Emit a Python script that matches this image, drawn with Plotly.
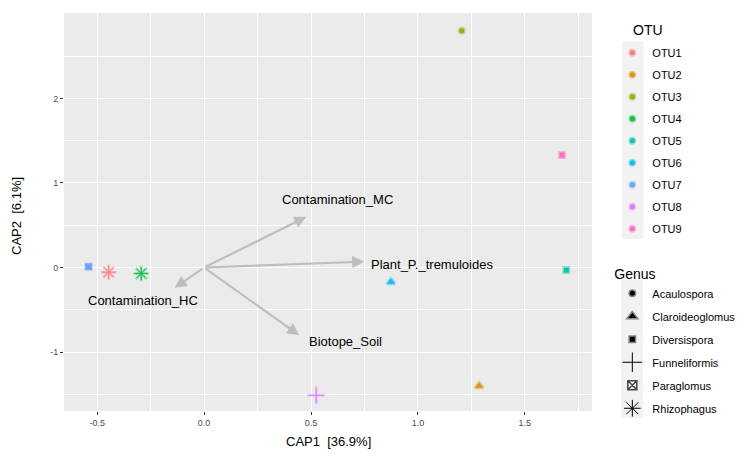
import plotly.graph_objects as go

# ---- data ----
otu_names = ["OTU1", "OTU2", "OTU3", "OTU4", "OTU5", "OTU6", "OTU7", "OTU8", "OTU9"]
otu_genus = ["Rhizophagus", "Claroideoglomus", "Acaulospora", "Rhizophagus", "Diversispora",
             "Claroideoglomus", "Paraglomus", "Funneliformis", "Diversispora"]
cap1 = [-0.446, 1.286, 1.205, -0.294, 1.694, 0.874, -0.54, 0.524, 1.674]
cap2 = [-0.055, -1.40, 2.80, -0.07, -0.03, -0.17, 0.01, -1.51, 1.33]
otu_colors = ["#F8766D", "#D39200", "#93AA00", "#00BA38", "#00C19F",
              "#00B9E3", "#619CFF", "#DB72FB", "#FF61C3"]

genus_names = ["Acaulospora", "Claroideoglomus", "Diversispora", "Funneliformis", "Paraglomus", "Rhizophagus"]

env_names = ["Contamination_HC", "Contamination_MC", "Plant_P._tremuloides", "Biotope_Soil"]
env_x = [-0.138, 0.478, 0.749, 0.445]
env_y = [-0.24, 0.60, 0.07, -0.80]
env_label_x = [-0.287, 0.626, 1.066, 0.66]
env_label_y = [-0.385, 0.81, 0.04, -0.88]

x_ticks = [-0.5, 0.0, 0.5, 1.0, 1.5]
y_ticks = [-1, 0, 1, 2]

FONT = "Liberation Sans, Arial"

def rgba(hexc, a):
    h = hexc.lstrip("#")
    r, g, b = int(h[0:2], 16), int(h[2:4], 16), int(h[4:6], 16)
    return f"rgba({r},{g},{b},{a})"

filled = {"Acaulospora": "circle", "Claroideoglomus": "triangle-up", "Diversispora": "square",
          "Paraglomus": "square"}
open_sym = {"Funneliformis": "cross-thin-open", "Rhizophagus": "asterisk-open"}

fig = go.Figure()

# points
for name, g, x, y, c in zip(otu_names, otu_genus, cap1, cap2, otu_colors):
    if g in filled:
        size = 5 if g != "Claroideoglomus" else 7
        fig.add_trace(go.Scatter(
            x=[x], y=[y], mode="markers", showlegend=False, hoverinfo="skip",
            marker=dict(symbol=filled[g], size=size, color=rgba(c, 0.9),
                        line=dict(color=rgba(c, 0.4), width=3))))
        if g == "Paraglomus":
            fig.add_trace(go.Scatter(
                x=[x], y=[y], mode="markers", showlegend=False, hoverinfo="skip",
                marker=dict(symbol="square-x-open", size=6, color=rgba(c, 0.6),
                            line=dict(width=1))))
    else:
        fig.add_trace(go.Scatter(
            x=[x], y=[y], mode="markers", showlegend=False, hoverinfo="skip",
            marker=dict(symbol=open_sym[g], size=13, color=rgba(c, 0.35),
                        line=dict(width=2.5))))
        fig.add_trace(go.Scatter(
            x=[x], y=[y], mode="markers", showlegend=False, hoverinfo="skip",
            marker=dict(symbol=open_sym[g], size=11, color=rgba(c, 0.9),
                        line=dict(width=1))))

# legend: OTU
for name, c in zip(otu_names, otu_colors):
    fig.add_trace(go.Scatter(
        x=[None], y=[None], mode="markers", name=name, legend="legend",
        legendgroup="o" + name,
        marker=dict(symbol="circle", size=5, color=rgba(c, 0.9),
                    line=dict(color=rgba(c, 0.4), width=3))))

# legend: Genus
gsym = {"Acaulospora": "circle", "Claroideoglomus": "triangle-up", "Diversispora": "square",
        "Funneliformis": "cross-thin-open", "Paraglomus": "square-x-open", "Rhizophagus": "asterisk-open"}
for g in genus_names:
    if g in ("Funneliformis", "Rhizophagus"):
        mk = dict(symbol=gsym[g], size=14, color="black", line=dict(width=1))
    elif g == "Paraglomus":
        mk = dict(symbol=gsym[g], size=9, color="#444444", line=dict(width=1.5))
    else:
        mk = dict(symbol=gsym[g], size=5 if g != "Claroideoglomus" else 7, color="black",
                  line=dict(color="rgba(0,0,0,0.45)", width=3))
    fig.add_trace(go.Scatter(x=[None], y=[None], mode="markers", name=g, legend="legend2",
                             legendgroup="g" + g, marker=mk))

annotations = []
for n, x, y, lx, ly in zip(env_names, env_x, env_y, env_label_x, env_label_y):
    annotations.append(dict(x=x, y=y, ax=0, ay=0, xref="x", yref="y", axref="x", ayref="y",
                            showarrow=True, arrowhead=2, arrowsize=1.1, arrowwidth=2.2,
                            arrowcolor="#BEBEBE", text=""))
    annotations.append(dict(x=lx, y=ly, xref="x", yref="y", text=n, showarrow=False,
                            font=dict(family=FONT, size=13, color="black")))

annotations.append(dict(text="CAP1  [36.9%]", x=0.5, y=-0.077, xref="paper", yref="paper",
                        showarrow=False, yanchor="middle",
                        font=dict(family=FONT, size=13, color="black")))
annotations.append(dict(text="CAP2  [6.1%]", x=-0.089, y=0.49, xref="paper", yref="paper",
                        showarrow=False, textangle=-90, xanchor="center",
                        font=dict(family=FONT, size=13, color="black")))
annotations.append(dict(text="OTU", x=1.0745, y=0.958, xref="paper", yref="paper",
                        showarrow=False, xanchor="left", yanchor="middle",
                        font=dict(family=FONT, size=14, color="black")))

shapes = [
    dict(type="rect", xref="paper", yref="paper", x0=1.0569, x1=1.0978, y0=0.4325, y1=0.9286,
         fillcolor="#F2F2F2", line=dict(width=0), layer="below"),
    dict(type="rect", xref="paper", yref="paper", x0=1.0550, x1=1.0968, y0=-0.0176, y1=0.3294,
         fillcolor="#F2F2F2", line=dict(width=0), layer="below"),
]

fig.update_layout(
    width=753, height=457,
    margin=dict(l=64, r=161, t=13, b=46, autoexpand=False),
    paper_bgcolor="white", plot_bgcolor="#EBEBEB",
    font=dict(family=FONT, color="black"),
    annotations=annotations,
    shapes=shapes,
    legend=dict(title=dict(text="\u00a0", font=dict(size=14)), font=dict(size=11),
                x=1.0385, y=0.982, xanchor="left", yanchor="top", tracegroupgap=3,
                bgcolor="rgba(0,0,0,0)"),
    legend2=dict(title=dict(text="Genus", font=dict(size=14)), font=dict(size=11),
                 x=1.0385, y=0.378, xanchor="left", yanchor="top", tracegroupgap=4,
                 bgcolor="rgba(0,0,0,0)"),
)
fig.update_xaxes(range=[-0.655, 1.814], tickvals=x_ticks, ticktext=[f"{v:.1f}" for v in x_ticks],
                 showgrid=True, gridcolor="white", gridwidth=1.1, zeroline=False,
                 ticks="outside", ticklen=3, tickcolor="#333333",
                 tickfont=dict(size=9, color="#4D4D4D"),
                 minor=dict(tickvals=[-0.25, 0.25, 0.75, 1.25, 1.75], showgrid=True,
                            gridcolor="white", gridwidth=0.5, ticks=""))
fig.update_yaxes(range=[-1.696, 3.01], tickvals=y_ticks, ticktext=[str(v) for v in y_ticks],
                 showgrid=True, gridcolor="white", gridwidth=1.1, zeroline=False,
                 ticks="outside", ticklen=3, tickcolor="#333333",
                 tickfont=dict(size=9, color="#4D4D4D"),
                 minor=dict(tickvals=[-1.5, -0.5, 0.5, 1.5, 2.5], showgrid=True,
                            gridcolor="white", gridwidth=0.5, ticks=""))

fig.write_html("out.html", config={"displayModeBar": False},
               post_script="document.body.style.margin='0';")
